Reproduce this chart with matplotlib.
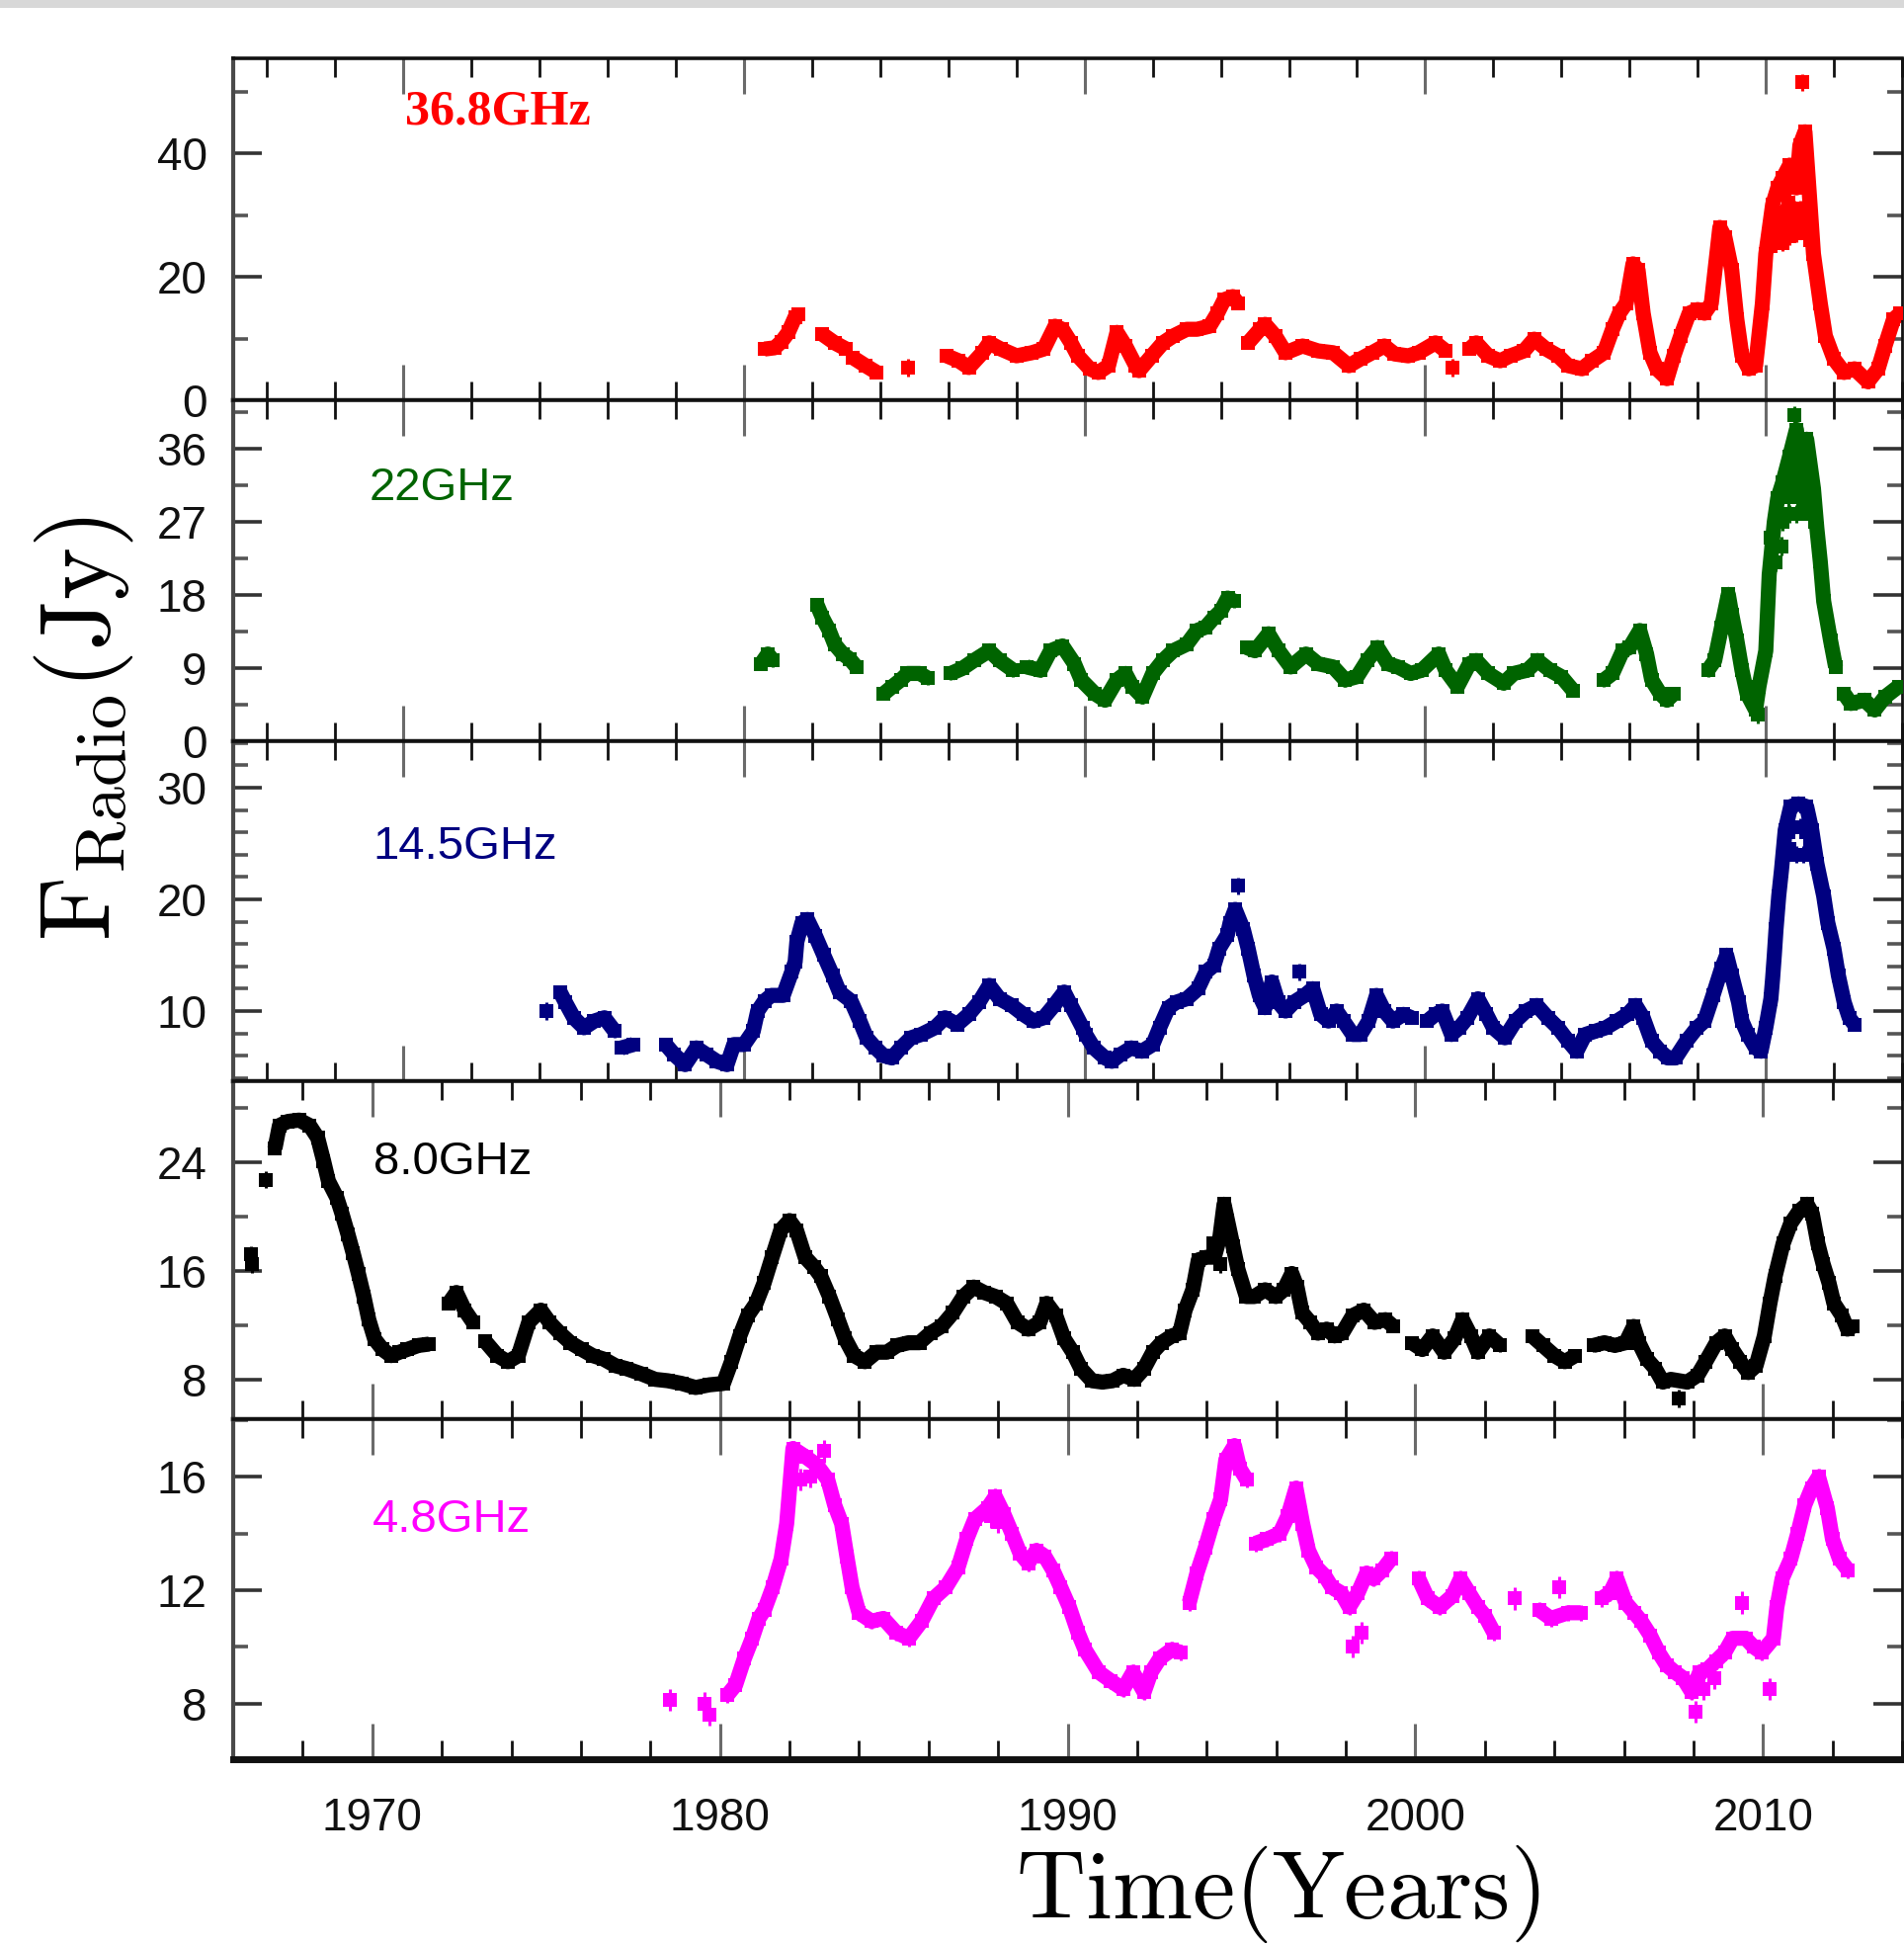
import numpy as np
import matplotlib
matplotlib.use("Agg")
import matplotlib.pyplot as plt
from matplotlib.ticker import MultipleLocator
from matplotlib.patches import Rectangle

nan = np.nan

# ---------------- data ----------------
labels = ["36.8GHz", "22GHz", "14.5GHz", "8.0GHz", "4.8GHz"]
colors = ["#ff0000", "#006400", "#000080", "#000000", "#ff00ff"]

# 36.8 GHz
t368 = [1980.6, 1980.9, 1981.1, 1981.3, 1981.5, 1981.6, nan,
        1982.3, 1982.66, 1983.0, nan,
        1983.2, 1983.57, 1983.9, nan,
        1985.95, 1986.3, 1986.6, 1987.0, 1987.2, 1987.54, 1988.0, 1988.45, 1988.8, 1989.13,
        1989.35, 1989.6, 1989.8, 1990.15, 1990.4, 1990.7, 1990.95, 1991.2, 1991.5, 1991.6,
        1991.97, 1992.3, 1992.6, 1993.0, 1993.3, 1993.67, 1993.9, 1994.1, 1994.35, 1994.5, nan,
        1994.8, 1995.15, 1995.3, 1995.6, 1995.9, 1996.4, 1996.85, 1997.3, 1997.76, 1998.1,
        1998.44, 1998.8, 1999.1, 1999.5, 1999.8, 2000.3, 2000.6, nan,
        2001.3, 2001.5, 2001.85, 2002.2, 2002.5, 2002.9, 2003.2, 2003.55, 2003.9, 2004.2,
        2004.6, 2004.9, 2005.25, 2005.5, 2005.7, 2005.9, 2006.1, 2006.25, 2006.4, 2006.6,
        2006.8, 2007.1, 2007.3, 2007.5, 2007.75, 2008.0, 2008.2, 2008.4, 2008.65, 2008.8,
        2009.0, 2009.15, 2009.3, 2009.5, 2009.7, 2009.9, 2010.0, 2010.2, 2010.35, 2010.5,
        2010.7, 2010.9, 2011.0, 2011.15, 2011.3, 2011.4, 2011.6, 2011.75, 2012.0, 2012.3,
        2012.6, 2013.0, 2013.3, 2013.5, 2013.75, 2013.95]
f368 = [8.3, 8.5, 9.5, 11.0, 13.5, 14.0, nan,
        10.7, 9.3, 8.3, nan,
        6.9, 5.6, 4.5, nan,
        7.2, 6.4, 5.3, 7.7, 9.3, 8.3, 7.2, 7.7, 8.3, 12.0,
        11.5, 9.3, 7.2, 5.1, 4.5, 5.6, 11.0, 8.8, 5.6, 4.8,
        7.2, 9.3, 10.4, 11.5, 11.5, 12.0, 14.1, 16.3, 16.8, 15.7, nan,
        9.3, 11.5, 12.3, 10.4, 7.7, 8.8, 8.0, 7.7, 5.6, 6.7,
        7.7, 8.8, 7.5, 7.2, 7.7, 9.3, 8.0, nan,
        8.3, 9.3, 7.2, 6.4, 7.2, 8.0, 9.9, 8.3, 7.2, 5.6,
        5.1, 6.4, 7.7, 11.5, 14.1, 15.7, 22.1, 21.1, 14.1, 7.7,
        5.1, 3.5, 7.2, 10.4, 14.1, 14.7, 14.1, 15.7, 28.0, 26.4,
        21.1, 13.1, 7.2, 5.1, 5.6, 15.7, 23.7, 31.7, 34.4, 36.0,
        38.1, 34.4, 41.3, 43.5, 31.7, 23.7, 15.7, 10.4, 6.7, 4.5,
        5.1, 3.0, 5.1, 8.8, 13.1, 14.1]
t368_pts = [1984.82, 2000.8, 2010.3, 2010.5, 2010.7, 2010.9, 2011.05, 2011.2,
            2010.45, 2010.65, 2010.85, 2011.1, 2010.25, 2010.6, 2010.8, 2011.0, 2011.25,
            2011.15, 2010.15, 2010.4, 2010.55, 2010.75, 2010.95, 2011.2, 2011.3, 2011.08]
f368_pts = [5.3, 5.3, 26.0, 25.5, 26.5, 27.0, 28.0, 30.0,
            30.5, 32.0, 31.0, 35.0, 28.5, 28.5, 29.0, 31.0, 36.0,
            39.0, 25.0, 28.0, 34.0, 35.0, 38.0, 40.0, 26.0, 51.5]
err368 = 1.0

# 22 GHz
t22 = [1980.5, 1980.7, 1980.85, nan,
       1982.14, 1982.3, 1982.5, 1982.66, 1982.9, 1983.1, 1983.3, nan,
       1984.1, 1984.36, 1984.6, 1984.8, 1985.16, 1985.4, nan,
       1986.07, 1986.4, 1986.75, 1987.2, 1987.5, 1987.9, nan,
       1988.3, 1988.7, 1989.0, 1989.35, 1989.7, 1989.9, 1990.3, 1990.6, 1990.95, 1991.2,
       1991.4, 1991.7, 1992.0, 1992.3, 1992.6, 1993.0, 1993.3, 1993.55, 1993.8, 1994.0,
       1994.2, 1994.4, nan,
       1994.76, 1995.0, 1995.4, 1995.7, 1996.05, 1996.5, 1996.85, 1997.3, 1997.65, 1998.0,
       1998.3, 1998.6, 1998.9, 1999.2, 1999.57, 1999.9, 2000.4, 2000.6, 2000.95, 2001.3,
       2001.5, 2001.85, 2002.3, 2002.6, 2003.0, 2003.3, 2003.66, 2004.0, 2004.34, nan,
       2005.25, 2005.5, 2005.8, 2006.0, 2006.3, 2006.5, 2006.65, 2006.9, 2007.1, 2007.3, nan,
       2008.3, 2008.5, 2008.7, 2008.9, 2009.0, 2009.15, 2009.3, 2009.45, 2009.7, 2009.8,
       2010.0, 2010.1, 2010.25, 2010.35, 2010.5, 2010.7, 2010.9, 2011.0, 2011.2, 2011.4,
       2011.5, 2011.6, 2011.7, 2011.9, 2012.05, nan,
       2012.3, 2012.5, 2012.9, 2013.2, 2013.5, 2013.9]
f22 = [9.5, 10.7, 9.9, nan,
       16.8, 15.2, 13.6, 11.9, 10.7, 10.1, 9.1, nan,
       5.8, 6.7, 7.5, 8.3, 8.3, 7.7, nan,
       8.3, 8.9, 9.9, 11.1, 9.9, 8.7, nan,
       9.1, 8.7, 11.1, 11.7, 9.5, 7.5, 5.8, 5.0, 7.5, 8.3,
       6.7, 5.4, 8.3, 9.9, 11.1, 11.9, 13.6, 14.0, 15.2, 16.0,
       17.6, 17.2, nan,
       11.5, 11.1, 13.2, 11.1, 9.1, 10.7, 9.5, 9.1, 7.5, 7.9,
       9.9, 11.5, 9.5, 9.1, 8.3, 8.7, 10.7, 8.7, 6.7, 9.5,
       9.9, 8.3, 7.1, 8.3, 8.7, 9.9, 8.7, 7.9, 6.2, nan,
       7.5, 8.3, 11.1, 11.5, 13.6, 10.7, 7.5, 5.8, 5.0, 5.8, nan,
       8.7, 9.9, 14.0, 18.05, 15.6, 12.4, 8.7, 5.8, 3.8, 6.7,
       11.1, 20.5, 27.0, 29.9, 31.9, 35.1, 38.4, 33.1, 37.2, 31.1,
       26.2, 22.1, 17.2, 12.4, 9.1, nan,
       5.8, 4.6, 5.0, 3.8, 5.4, 6.7]
t22_pts = [2010.5, 2010.7, 2010.9, 2011.1, 2011.3, 2010.8, 2011.0, 2011.15, 2010.6, 2010.85,
           2010.75, 2010.95, 2011.1, 2011.3, 2009.65, 2009.75,
           2010.15, 2010.3, 2010.45, 2010.65, 2011.05, 2011.25, 2011.45]
f22_pts = [27.0, 28.0, 28.0, 28.5, 28.0, 31.5, 32.0, 33.0, 33.0, 40.2,
           35.0, 35.5, 36.0, 34.0, 4.8, 3.2,
           25.0, 22.0, 24.0, 30.0, 30.0, 31.0, 27.0]
err22 = 0.8

# 14.5 GHz
t145 = [1974.6, 1974.75, 1975.0, 1975.3, 1975.6, 1975.9, 1976.2, nan,
        1976.4, 1976.75, nan,
        1977.7, 1977.95, 1978.27, 1978.6, 1978.9, 1979.2, 1979.5, 1979.7, 1980.0, 1980.27,
        1980.4, 1980.6, 1980.8, 1981.15, 1981.4, 1981.5, 1981.55, 1981.7, 1981.86, 1982.1,
        1982.34, 1982.6, 1982.8, 1983.14, 1983.4, 1983.6, 1983.86, 1984.1, 1984.34, 1984.6,
        1984.9, 1985.2, 1985.6, 1985.9, 1986.26, 1986.6, 1986.9, 1987.2, 1987.5, 1987.86,
        1988.2, 1988.5, 1988.8, 1989.1, 1989.4, 1989.6, 1989.94, 1990.03, 1990.27, 1990.6,
        1990.8, 1991.05, 1991.37, 1991.68, 1992.0, 1992.2, 1992.46, 1992.7, 1993.0, 1993.33,
        1993.56, 1993.8, 1993.95, 1994.19, 1994.27, 1994.42, 1994.66, 1994.8, 1994.97, 1995.13,
        1995.3, 1995.5, 1995.68, 1995.9, 1996.15, 1996.46, 1996.7, 1996.93, 1997.16, 1997.4,
        1997.6, 1997.87, 1998.1, 1998.34, 1998.57, 1998.8, 1999.05, 1999.36, 1999.6, nan,
        2000.06, 2000.3, 2000.5, 2000.77, 2001.0, 2001.24, 2001.55, 2001.8, 2002.0, 2002.34,
        2002.65, 2002.96, 2003.28, 2003.6, 2003.9, 2004.2, 2004.45, 2004.7, 2005.0, 2005.3,
        2005.63, 2005.94, 2006.18, 2006.4, 2006.65, 2006.9, 2007.12, 2007.35, 2007.67, 2007.98,
        2008.2, 2008.45, 2008.7, 2008.85, 2009.0, 2009.2, 2009.3, 2009.47, 2009.7, 2009.86,
        2010.0, 2010.15, 2010.2, 2010.25, 2010.3, 2010.38, 2010.46, 2010.57, 2010.73, 2010.96,
        2011.2, 2011.35, 2011.5, 2011.7, 2011.82, 2012.0, 2012.13, 2012.3, 2012.45, 2012.6]
f145 = [11.7, 10.8, 9.4, 8.5, 9.1, 9.4, 8.2, nan,
        6.7, 7.0, nan,
        7.0, 6.1, 5.2, 6.7, 6.1, 5.5, 5.2, 7.0, 7.0, 8.2,
        10.0, 10.9, 11.4, 11.4, 13.5, 14.4, 16.2, 17.9, 18.2, 16.7,
        15.0, 13.2, 11.7, 10.9, 9.1, 7.6, 6.7, 6.0, 5.8, 6.7,
        7.6, 7.9, 8.5, 9.4, 8.8, 9.7, 10.8, 12.3, 11.1, 10.5,
        9.7, 9.1, 9.4, 10.5, 11.7, 10.5, 8.5, 7.9, 6.7, 5.8,
        5.5, 6.1, 6.7, 6.4, 7.0, 8.5, 10.3, 10.8, 11.1, 12.0,
        13.5, 14.1, 15.6, 16.8, 17.9, 19.1, 17.3, 15.6, 13.2, 11.4,
        10.3, 12.6, 10.8, 10.0, 10.8, 11.4, 12.0, 9.7, 9.1, 10.0,
        9.1, 7.9, 7.9, 9.1, 11.4, 10.0, 9.1, 9.7, 9.4, nan,
        9.1, 9.7, 10.0, 7.9, 8.5, 9.4, 11.1, 9.7, 8.5, 7.6,
        9.1, 10.0, 10.5, 9.4, 8.5, 7.3, 6.4, 7.9, 8.2, 8.5,
        9.1, 9.7, 10.5, 9.4, 7.3, 6.4, 5.8, 5.8, 7.3, 8.5,
        9.1, 11.4, 13.8, 15.0, 13.2, 10.8, 9.1, 7.9, 6.7, 6.4,
        8.5, 11.1, 12.9, 15.0, 17.3, 20.3, 22.6, 26.2, 28.3, 28.55,
        28.3, 26.2, 23.2, 20.3, 17.9, 15.6, 13.2, 10.8, 9.4, 8.8]
t145_pts = [1974.2, 1994.5, 1996.3, 2010.7, 2010.9, 2011.1, 2011.3, 2010.8, 2011.0, 2011.2,
            2010.65, 2011.4]
f145_pts = [10.0, 21.2, 13.5, 24.5, 24.0, 24.0, 25.0, 26.5, 26.5, 26.0,
            26.0, 24.5]
err145 = 0.55

# 8.0 GHz
t80 = [1967.2, 1967.33, 1967.57, 1967.9, 1968.2, 1968.43, 1968.6, 1968.74, 1968.98, 1969.13,
       1969.3, 1969.45, 1969.6, 1969.76, 1969.9, 1970.07, 1970.3, 1970.54, 1970.78, 1971.0,
       1971.33, 1971.64, nan,
       1972.2, 1972.42, 1972.66, 1972.9, nan,
       1973.25, 1973.6, 1973.9, 1974.2, 1974.5, 1974.85, 1975.1, 1975.4, 1975.7, 1976.03,
       1976.34, 1976.65, 1977.0, 1977.3, 1977.75, 1978.14, 1978.5, 1978.9, 1979.3, 1979.7,
       1980.1, 1980.33, 1980.57, 1980.8, 1981.04, 1981.27, 1981.5, 1981.75, 1982.0, 1982.2,
       1982.45, 1982.7, 1982.9, 1983.15, 1983.4, 1983.6, 1983.86, 1984.17, 1984.5, 1984.8,
       1985.1, 1985.43, 1985.74, 1986.05, 1986.37, 1986.7, 1987.0, 1987.3, 1987.6, 1987.93,
       1988.25, 1988.56, 1988.87, 1989.2, 1989.4, 1989.66, 1989.9, 1990.15, 1990.38, 1990.7,
       1991.0, 1991.3, 1991.6, 1991.92, 1992.2, 1992.45, 1992.7, 1993.0, 1993.22, 1993.38,
       1993.6, 1993.76, 1994.0, 1994.22, 1994.38, 1994.5, 1994.6, 1994.76, 1994.9, 1995.14,
       1995.37, 1995.68, 1995.99, 1996.22, 1996.45, 1996.6, 1996.75, 1996.98, 1997.2, 1997.45,
       1997.68, 1997.9, 1998.2, 1998.52, 1998.83, 1999.14, 1999.37, nan,
       1999.9, 2000.2, 2000.5, 2000.83, 2001.13, 2001.36, 2001.6, 2001.8, 2002.13, 2002.44, nan,
       2003.36, 2003.67, 2004.0, 2004.3, 2004.6, nan,
       2005.13, 2005.44, 2005.74, 2006.05, 2006.28, 2006.43, 2006.66, 2006.9, 2007.12, 2007.35,
       2007.82, 2008.12, 2008.35, 2008.66, 2008.9, 2009.12, 2009.35, 2009.58, 2009.8, 2010.04,
       2010.2, 2010.35, 2010.58, 2010.8, 2011.04, 2011.27, 2011.42, 2011.58, 2011.73, 2011.9,
       2012.04, 2012.27, 2012.43, 2012.58]
f80 = [25.0, 26.7, 27.0, 27.1, 26.7, 25.8, 24.1, 22.6, 21.4, 20.2,
       18.7, 17.3, 15.8, 14.1, 12.4, 10.96, 10.2, 9.75, 10.0, 10.2,
       10.5, 10.6, nan,
       13.6, 14.4, 13.1, 12.2, nan,
       10.8, 9.75, 9.3, 9.75, 12.2, 13.1, 12.2, 11.4, 10.7, 10.2,
       9.75, 9.5, 9.0, 8.8, 8.4, 8.0, 7.9, 7.7, 7.4, 7.6,
       7.7, 9.3, 11.2, 12.7, 13.6, 15.1, 17.0, 19.0, 19.7, 19.0,
       17.0, 16.3, 15.6, 14.1, 12.4, 11.0, 9.75, 9.3, 10.0, 10.0,
       10.5, 10.7, 10.7, 11.4, 11.9, 12.9, 14.1, 14.8, 14.4, 14.1,
       13.6, 12.2, 11.7, 12.2, 13.6, 12.7, 11.0, 10.0, 8.8, 7.9,
       7.8, 7.9, 8.3, 8.0, 8.8, 10.0, 10.7, 11.2, 11.4, 13.1,
       14.6, 16.8, 17.0, 17.0, 18.5, 20.9, 19.7, 17.8, 16.1, 14.1,
       14.1, 14.6, 14.1, 14.6, 15.8, 14.8, 12.9, 12.2, 11.4, 11.7,
       11.2, 11.4, 12.7, 13.1, 12.2, 12.4, 11.9, nan,
       10.7, 10.2, 11.2, 10.0, 11.0, 12.4, 11.2, 10.0, 11.2, 10.5, nan,
       11.2, 10.5, 9.75, 9.3, 9.75, nan,
       10.5, 10.7, 10.5, 10.7, 11.9, 10.7, 9.5, 8.8, 7.8, 8.0,
       7.8, 8.3, 9.3, 10.7, 11.2, 10.2, 9.3, 8.5, 9.0, 11.2,
       13.6, 15.6, 18.0, 19.5, 20.4, 20.9, 20.2, 18.0, 16.5, 15.1,
       13.6, 12.7, 11.7, 11.9]
t80_pts = [1966.5, 1966.55, 1966.94, 2007.58, 1994.2, 1994.4]
f80_pts = [17.2, 16.5, 22.7, 6.6, 18.0, 16.5]
err80 = 0.45

# 4.8 GHz
t48 = [1980.22, 1980.45, 1980.7, 1980.93, 1981.12, 1981.28, 1981.52, 1981.76, 1981.92, 1982.1,
       1982.47, 1982.8, 1983.1, 1983.3, 1983.5, 1983.65, 1983.8, 1984.0, 1984.36, 1984.7,
       1985.07, 1985.43, 1985.8, 1986.14, 1986.5, 1986.85, 1987.1, 1987.33, 1987.7, 1987.92,
       1988.16, 1988.4, 1988.63, 1988.87, 1989.1, 1989.34, 1989.58, 1989.8, 1990.05, 1990.3,
       1990.5, 1990.9, 1991.24, 1991.6, 1991.88, 1992.2, 1992.4, 1992.66, 1993.0, 1993.25, nan,
       1993.5, 1993.72, 1993.96, 1994.2, 1994.4, 1994.55, 1994.8, 1994.95, 1995.15, nan,
       1995.4, 1995.74, 1996.1, 1996.33, 1996.57, 1996.76, 1996.93, 1997.16, 1997.4, 1997.6,
       1997.87, 1998.1, 1998.35, 1998.6, 1998.8, 1999.05, 1999.3, nan,
       2000.1, 2000.36, 2000.7, 2001.07, 2001.3, 2001.55, 2001.8, 2002.0, 2002.26, nan,
       2003.56, 2003.9, 2004.4, 2004.75, nan,
       2005.35, 2005.6, 2005.8, 2006.05, 2006.3, 2006.5, 2006.76, 2007.0, 2007.23, 2007.47,
       2007.7, 2007.95, 2008.18, 2008.4, 2008.65, 2008.9, 2009.13, 2009.5, 2009.73, 2009.96,
       2010.3, 2010.4, 2010.55, 2010.8, 2011.0, 2011.2, 2011.4, 2011.6, 2011.85, 2012.0,
       2012.2, 2012.45]
f48 = [8.3, 8.65, 9.58, 10.3, 11.0, 11.3, 12.1, 13.1, 14.35, 17.0,
       16.7, 16.4, 15.9, 15.0, 14.35, 13.2, 12.1, 11.2, 10.9, 11.0,
       10.5, 10.3, 10.9, 11.7, 12.1, 12.8, 13.8, 14.5, 14.9, 15.3,
       14.7, 14.0, 13.3, 12.95, 13.4, 13.2, 12.7, 12.1, 11.4, 10.5,
       9.9, 9.1, 8.8, 8.5, 9.1, 8.4, 9.1, 9.6, 9.9, 9.8, nan,
       11.56, 12.6, 13.5, 14.5, 15.2, 16.6, 17.1, 16.3, 15.9, nan,
       13.65, 13.8, 14.0, 14.6, 15.6, 14.35, 13.4, 12.8, 12.5, 12.1,
       11.9, 11.4, 11.9, 12.6, 12.4, 12.7, 13.1, nan,
       12.4, 11.7, 11.4, 11.8, 12.4, 11.9, 11.4, 11.1, 10.5, nan,
       11.3, 11.0, 11.2, 11.2, nan,
       11.7, 11.9, 12.4, 11.56, 11.2, 10.9, 10.4, 9.8, 9.35, 9.1,
       8.9, 8.4, 9.1, 9.2, 9.5, 9.8, 10.3, 10.3, 10.0, 9.8,
       10.3, 11.4, 12.4, 13.1, 14.0, 15.0, 15.6, 16.0, 14.9, 13.8,
       13.1, 12.7]
t48_pts = [1978.56, 1979.55, 1979.7, 1998.2, 1998.45, 2002.85, 2004.15, 2008.06, 2009.4, 2010.2,
           1982.3, 1982.6, 1983.0, 1996.5, 2008.3, 2008.6, 1987.8, 1988.0]
f48_pts = [8.12, 8.0, 7.6, 10.0, 10.5, 11.7, 12.1, 7.7, 11.56, 8.5,
           15.9, 16.0, 16.9, 14.8, 8.5, 8.9, 14.6, 14.4]
err48 = 0.28

times = [t368, t22, t145, t80, t48]
fluxes = [f368, f22, f145, f80, f48]
times_pts = [t368_pts, t22_pts, t145_pts, t80_pts, t48_pts]
fluxes_pts = [f368_pts, f22_pts, f145_pts, f80_pts, f48_pts]
errs = [err368, err22, err145, err80, err48]

ylims = [(0, 55.4), (0, 42.0), (3.76, 34.2), (5.1, 30.0), (6.03, 18.05)]
xlims = [(1965, 2014), (1965, 2014), (1965, 2014), (1966, 2014), (1966, 2014)]
ymajor = [20, 9, 10, 8, 4]
yminor = [10, 4.5, 2, 4, 2]
xticks = [1970, 1980, 1990, 2000, 2010]

# ---------------- figure ----------------
W, H = 1927, 1969
plt.rcParams["font.family"] = ["Liberation Sans", "DejaVu Sans"]
plt.rcParams["mathtext.fontset"] = "cm"
fig = plt.figure(figsize=(W / 100, H / 100), dpi=100)
fig.patches.append(Rectangle((0, 1 - 8 / H), 1, 8 / H, transform=fig.transFigure,
                             facecolor="#d8d8d8", edgecolor="none"))

edges = [59, 405, 749.5, 1093.5, 1435.5, 1780]
left, right = 236, 1925
text_pos = [(0.103, 0.809), (0.0817, 0.707), (0.0835, 0.653), (0.084, 0.724), (0.0835, 0.668)]

for i in range(5):
    top, bot = edges[i], edges[i + 1]
    ax = fig.add_axes([left / W, 1 - bot / H, (right - left) / W, (bot - top) / H])
    c = colors[i]
    x = np.array(times[i], dtype=float)
    y = np.array(fluxes[i], dtype=float)
    ax.plot(x, y, color=c, lw=11, solid_joinstyle="round", solid_capstyle="butt", zorder=2)
    ok = ~np.isnan(x)
    ax.errorbar(x[ok], y[ok], yerr=errs[i], fmt="s", ms=10, color=c, ecolor=c,
                elinewidth=2.2, capsize=4.5, capthick=2.2, mew=0, zorder=3)
    ax.errorbar(times_pts[i], fluxes_pts[i], yerr=errs[i] * 1.4, fmt="s", ms=10, color=c,
                ecolor=c, elinewidth=2.2, capsize=4.5, capthick=2.2, mew=0, zorder=3)

    ax.set_xlim(*xlims[i])
    ax.set_ylim(*ylims[i])
    ax.set_xticks(xticks)
    ax.xaxis.set_minor_locator(MultipleLocator(2))
    ax.yaxis.set_major_locator(MultipleLocator(ymajor[i]))
    ax.yaxis.set_minor_locator(MultipleLocator(yminor[i]))

    ax.tick_params(axis="x", which="major", direction="in", top=True, bottom=True,
                   length=26, width=2.2, color="#6a6a6a", labelsize=33, pad=27,
                   labelcolor="#111111")
    ax.tick_params(axis="x", which="minor", direction="in", top=True, bottom=True,
                   length=14, width=2.0, color="#111111")
    ax.tick_params(axis="y", which="major", direction="in", left=True, right=True,
                   length=21, width=2.6, color="#333333", labelsize=33, pad=19,
                   labelcolor="#111111")
    ax.tick_params(axis="y", which="minor", direction="in", left=True, right=True,
                   length=11, width=2.6, color="#555555")
    if i < 4:
        ax.tick_params(axis="x", which="both", labelbottom=False)

    ax.spines["left"].set_color("#4a4a4a")
    ax.spines["left"].set_linewidth(3)
    ax.spines["right"].set_color("#111111")
    ax.spines["right"].set_linewidth(2)
    ax.spines["top"].set_color("#111111")
    ax.spines["top"].set_linewidth(2.6)
    ax.spines["bottom"].set_color("#111111")
    ax.spines["bottom"].set_linewidth(5 if i == 4 else 3.2)

    tx, ty = text_pos[i]
    if i == 0:
        ax.text(tx, ty, labels[i], transform=ax.transAxes, color=c, fontsize=36,
                family=["Liberation Serif", "DejaVu Serif"], weight="bold",
                va="baseline", ha="left")
    else:
        ax.text(tx, ty, labels[i], transform=ax.transAxes, color=c, fontsize=34,
                va="baseline", ha="left")

fig.text(1293 / W, 1 - 1941 / H, r"$\mathrm{Time(Years)}$", fontsize=70,
         ha="center", va="baseline")
fig.text(110 / W, 1 - 952 / H, r"$\mathrm{F}_{\mathrm{Radio}}(\mathrm{Jy})$", fontsize=72,
         rotation=90, rotation_mode="anchor", ha="left", va="baseline")

fig.savefig("out.png", dpi=100)
